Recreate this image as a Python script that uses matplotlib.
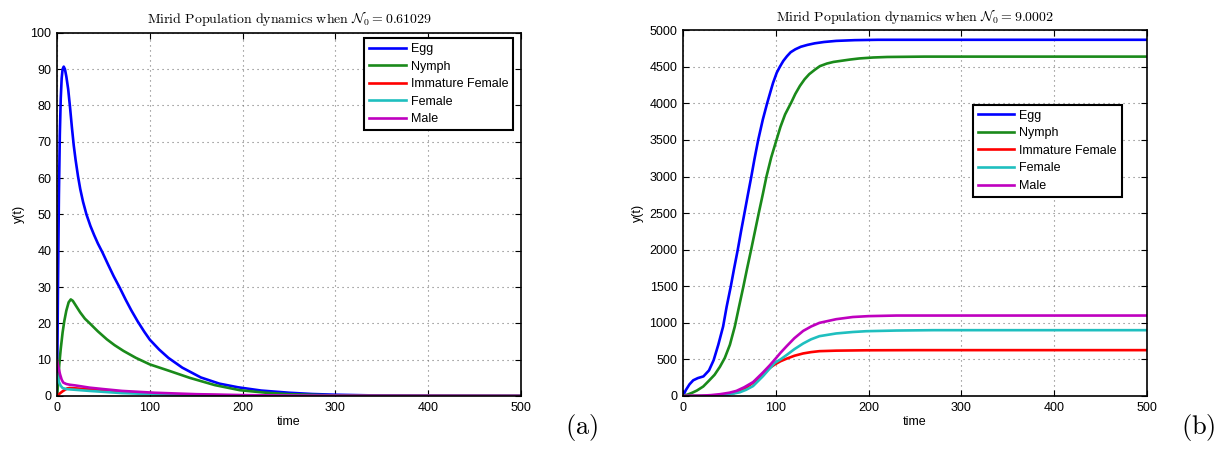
import matplotlib
matplotlib.use("Agg")
import matplotlib.pyplot as plt

plt.rcParams['font.family'] = ['Liberation Sans', 'DejaVu Sans']
plt.rcParams['mathtext.fontset'] = 'cm'

labels = ['Egg', 'Nymph', 'Immature Female', 'Female', 'Male']
colors = ['#0000ff', '#1a8a1a', '#ff0000', '#1fbfbf', '#bf00bf']

# (a) N0 = 0.61029
egg_a_t = [0, 1, 2, 3, 4, 5, 6, 7.2, 8.5, 10, 12, 14, 16, 18, 20, 22.6, 25, 28, 31.7, 36, 40, 44, 49,
           55, 61, 67.6, 74, 80, 87, 94, 100, 110, 120, 135, 155, 175, 195, 220, 250, 275, 300, 350, 400, 500]
egg_a = [0, 30, 55, 72, 82, 87.5, 90, 90.7, 90, 88, 84.5, 79.5, 74, 69, 65, 60.5, 57, 53.5, 50, 46.8, 44.3, 42, 39.5,
         36.2, 33, 29.8, 26.5, 23.6, 20.5, 17.7, 15.5, 12.8, 10.5, 7.8, 5.1, 3.4, 2.4, 1.5, 0.9, 0.55, 0.35, 0.12, 0.04, 0]
nymph_a_t = [0, 1, 2.4, 4, 6, 7.8, 10, 12.5, 14.8, 17, 20, 25, 30, 35.3, 44, 53.7, 62, 71.7, 85,
             100, 120, 143, 170, 197, 225, 250, 300, 350, 500]
nymph_a = [0, 3, 8.7, 13, 17.5, 20.6, 23.5, 25.8, 26.6, 26.2, 25, 23, 21.3, 20, 17.8, 15.6, 14, 12.4, 10.5,
           8.7, 7, 5, 3, 1.6, 0.9, 0.5, 0.15, 0.05, 0]
imm_a_t = [0, 3, 6, 8.5, 11, 13.7, 20, 35, 70, 105, 150, 200, 300, 500]
imm_a = [0, 0.7, 1.3, 1.7, 2.1, 2.2, 2.1, 1.8, 1.1, 0.6, 0.3, 0.12, 0.02, 0]
fem_a_t = [0, 1, 2, 4, 6, 10, 15, 35, 70, 105, 150, 200, 300, 500]
fem_a = [6, 4.8, 3.9, 2.8, 2.2, 1.9, 1.8, 1.4, 0.8, 0.5, 0.25, 0.1, 0.02, 0]
male_a_t = [0, 1, 3.2, 5, 6.7, 10, 13.7, 20, 35, 50, 70, 105, 150, 200, 250, 300, 500]
male_a = [9.8, 8.5, 6, 4.5, 3.7, 3.3, 3.1, 2.9, 2.3, 1.9, 1.4, 0.9, 0.5, 0.25, 0.1, 0.05, 0]

# (b) N0 = 9.0002
egg_b_t = [0, 3, 7, 11, 16, 22, 28, 33, 38, 43.2, 47, 51.5, 55, 59, 62.5, 66.2, 70, 73.6, 77, 81,
           86, 90.6, 94, 97, 101, 104.3, 108, 112, 116, 121, 127, 134, 142, 152, 165, 185, 210, 500]
egg_b = [0, 80, 160, 215, 245, 268, 350, 490, 700, 950, 1220, 1500, 1740, 2000, 2250, 2500, 2760, 3000, 3240, 3500,
         3780, 4000, 4150, 4280, 4420, 4500, 4580, 4645, 4700, 4740, 4775, 4800, 4822, 4840, 4855, 4865, 4870, 4870]
nymph_b_t = [0, 5, 10, 15, 21.8, 28, 34, 39.8, 45, 50.5, 55.8, 60, 65.1, 69, 73.4, 77.5, 81.6, 86, 89.9,
             95, 100.7, 105, 110, 116.9, 121, 126, 131, 136, 142, 147.5, 155, 162, 169, 180, 190, 205, 220, 260, 500]
nymph_b = [0, 20, 45, 75, 130, 210, 290, 400, 520, 700, 950, 1200, 1500, 1740, 2000, 2250, 2500, 2760, 3000,
           3260, 3500, 3680, 3850, 4020, 4130, 4240, 4330, 4400, 4460, 4510, 4545, 4567, 4580, 4600, 4615, 4628,
           4635, 4640, 4640]
imm_b_t = [0, 30, 40, 46.8, 55, 61, 68, 75.5, 86.3, 93, 99, 105, 111.6, 120, 129.5, 138, 147, 165, 197.6, 250, 500]
imm_b = [0, 3, 8, 15, 40, 68, 115, 182, 296, 380, 432, 475, 510, 550, 582, 600, 613, 620, 625, 627, 627]
fem_b_t = [0, 30, 40, 46.8, 55, 61, 68, 75.5, 86.3, 93, 99, 105, 111.6, 120, 129.5, 138, 147, 165, 183,
           197.6, 230, 270, 500]
fem_b = [0, 3, 10, 20, 35, 50, 85, 136, 273, 370, 455, 500, 560, 640, 718, 775, 818, 855, 875,
         886, 895, 900, 900]
male_b_t = [0, 20, 30, 40, 50, 57.6, 66, 75.5, 86, 93.5, 99, 105, 111.6, 120, 129.5, 138, 147, 165, 183,
            200, 230, 500]
male_b = [0, 5, 12, 25, 45, 70, 120, 190, 320, 420, 500, 590, 680, 790, 890, 950, 1000, 1050, 1080,
          1092, 1100, 1100]

series_a = [(egg_a_t, egg_a), (nymph_a_t, nymph_a), (imm_a_t, imm_a), (fem_a_t, fem_a), (male_a_t, male_a)]
series_b = [(egg_b_t, egg_b), (nymph_b_t, nymph_b), (imm_b_t, imm_b), (fem_b_t, fem_b), (male_b_t, male_b)]

fig = plt.figure(figsize=(12.32, 4.5), dpi=100)
ax_a = fig.add_axes([0.0463, 0.12, 0.3766, 0.807])
ax_b = fig.add_axes([0.5544, 0.12, 0.3766, 0.8127])


def style_axes(ax, series, ymax, ystep, title, legend_anchor):
    for (t, y), lab, c in zip(series, labels, colors):
        ax.plot(t, y, color=c, lw=1.9, label=lab)
    ax.set_xlim(0, 500)
    ax.set_ylim(0, ymax)
    ax.set_xticks(range(0, 501, 100))
    ax.set_yticks(range(0, ymax + 1, ystep))
    ax.tick_params(direction='in', top=True, right=True, labelsize=9, length=4, width=0.8, pad=4)
    ax.grid(True, color='#777777', linestyle=(0, (1, 3.5)), lw=0.8)
    for s in ax.spines.values():
        s.set_linewidth(1.2)
    ax.set_xlabel('time', fontsize=9, labelpad=2)
    ax.set_ylabel('y(t)', fontsize=9, labelpad=4)
    ax.set_title(title, fontsize=10, pad=7)
    leg = ax.legend(loc='upper right', bbox_to_anchor=legend_anchor, borderaxespad=0,
                    fontsize=9, fancybox=False, framealpha=1, edgecolor='black',
                    handlelength=2.9, labelspacing=0.45, borderpad=0.4, handletextpad=0.4)
    leg.get_frame().set_linewidth(1.5)


style_axes(ax_a, series_a, 100, 10,
           r'$\mathrm{Mirid\ Population\ dynamics\ when\ }\mathcal{N}_0{=}\mathrm{0.61029}$', (0.983, 0.986))
style_axes(ax_b, series_b, 5000, 500,
           r'$\mathrm{Mirid\ Population\ dynamics\ when\ }\mathcal{N}_0{=}\mathrm{9.0002}$', (0.946, 0.797))

fig.text(0.459, 0.035, r'$\mathrm{(a)}$', fontsize=19)
fig.text(0.959, 0.035, r'$\mathrm{(b)}$', fontsize=19)

fig.savefig('out.png', dpi=100)
